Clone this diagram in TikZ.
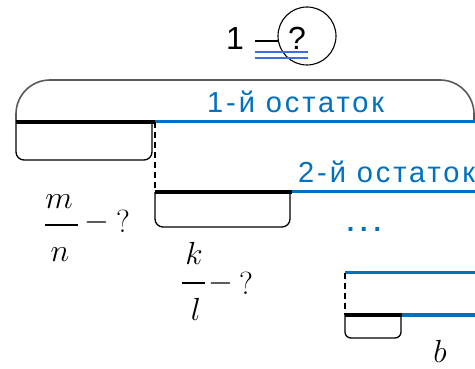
\documentclass[tikz,border=0pt]{standalone}
\usepackage{fix-cm}
\usepackage{fontspec}
\newfontfamily\labelf{Liberation Sans}[LetterSpace=10]
\newfontfamily\dotsf{Liberation Sans}[LetterSpace=22]
\newfontfamily\topf{Liberation Sans}
\definecolor{mblue}{RGB}{0,112,192}
\definecolor{lblue}{RGB}{60,110,230}
\definecolor{bracegray}{RGB}{90,90,90}
\begin{document}
\begin{tikzpicture}[x=1pt,y=-1pt,
  thickseg/.style={line width=4.4pt, black},
  blueseg/.style={line width=3pt, mblue},
  brk/.style={line width=1.3pt, black, rounded corners=8pt},
  dsh/.style={line width=1.2pt, black, dash pattern=on 6pt off 4pt},
  lbl/.style={inner sep=0pt, text=mblue, font=\labelf\fontsize{29}{32}\selectfont},
  mth/.style={inner sep=0pt, font=\fontsize{32}{36}\selectfont},
  topt/.style={inner sep=0pt, font=\topf\fontsize{32}{36}\selectfont}]
\useasboundingbox (0,0) rectangle (475,369);

% top expression
\node[topt, anchor=base] (one) at (235,50) {1};
\node[circle, draw, line width=1.1pt, minimum size=58pt, inner sep=0pt] (circ) at (307,36) {};
\node[topt, anchor=base] (q) at (297,50) {?};
\coordinate (ml) at (255,41);
\coordinate (mr) at (279,41);
\draw[line width=1.2pt] (ml) -- (mr);
\coordinate (d1l) at (255,52); \coordinate (d1r) at (308,52);
\coordinate (d2l) at (255,58); \coordinate (d2r) at (308,58);
\draw[lblue, line width=1.4pt] (d1l) -- (d1r);
\draw[lblue, line width=1.4pt] (d2l) -- (d2r);

% first row
\coordinate (a0) at (16,122);
\coordinate (a1) at (155,122);
\coordinate (aR) at (475,122);
\draw[line width=1.6pt, bracegray, rounded corners=34pt] (a0) -- (16,80) -- (474,80) -- (474,122);
\draw[brk] (a0) -- (16,160) -- (152,160) -- (152,122);
\draw[thickseg] (a0) -- (a1);
\draw[blueseg] (a1) -- (aR);
\node[lbl, anchor=base west] (r1) at (207,113) {1-й остаток};

% second row
\coordinate (b0) at (155,192);
\coordinate (b1) at (292,192);
\coordinate (bR) at (475,192);
\draw[dsh] (a1) -- (b0);
\draw[brk] (b0) -- (155,227) -- (290,227) -- (290,192);
\draw[thickseg] (b0) -- (b1);
\draw[blueseg] (b1) -- (bR);
\node[lbl, anchor=base west] (r2) at (298,183) {2-й остаток};
\node[inner sep=0pt, text=mblue, font=\dotsf\fontsize{27}{30}\selectfont\bfseries] (dots) at (364,229) {...};

% third row
\coordinate (c0) at (345,273);
\coordinate (cR) at (475,273);
\coordinate (e0) at (345,315);
\coordinate (e1) at (402,315);
\coordinate (eR) at (475,315);
\draw[blueseg] (c0) -- (cR);
\draw[dsh] (c0) -- (e0);
\draw[brk, rounded corners=6pt] (e0) -- (345,338) -- (401,338) -- (401,315);
\draw[thickseg] (e0) -- (e1);
\draw[blueseg] (e1) -- (eR);

% fractions
\node[mth] (m) at (59,202) {$m$};
\node[mth] (n) at (60,255) {$n$};
\coordinate (f1l) at (45,225); \coordinate (f1r) at (78,225);
\draw[line width=1.3pt] (f1l) -- (f1r);
\node[mth] (mm) at (97,223) {$-$};
\node[mth] (mq) at (123,221) {?};

\node[mth] (k) at (194,253) {$k$};
\node[mth] (l) at (196,309) {$l$};
\coordinate (f2l) at (182,283); \coordinate (f2r) at (205,283);
\draw[line width=1.3pt] (f2l) -- (f2r);
\node[mth] (km) at (221,283) {$-$};
\node[mth] (kq) at (246,283) {?};

\node[mth] (b) at (440,351) {$b$};
\end{tikzpicture}
\end{document}
